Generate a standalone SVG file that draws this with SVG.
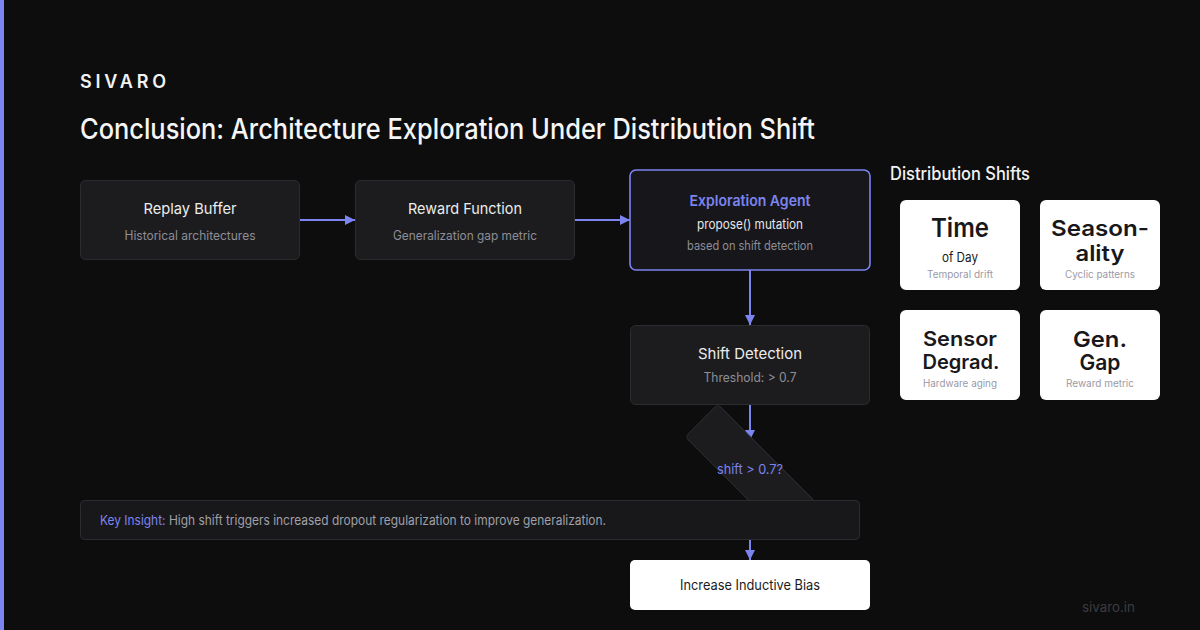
<svg xmlns="http://www.w3.org/2000/svg" width="1200" height="630" viewBox="0 0 1200 630">
<defs>
<style>
text{font-family:Inter,"Liberation Sans",sans-serif}
.node{fill:#1c1c1f;stroke:#2c2c30;stroke-width:1}
.t{fill:#ececec;font-size:15px;text-anchor:middle}
.s{fill:#8e8e96;font-size:12.5px;text-anchor:middle}
.card{fill:#ffffff}
.big{fill:#18181b;font-weight:600;text-anchor:middle}
.cs{fill:#9a9aa6;font-size:10px;text-anchor:middle}
.edge{stroke:#7c84f0;stroke-width:2;fill:none}
</style>
<marker id="ah" viewBox="0 0 10 10" refX="10" refY="5" markerWidth="10" markerHeight="10" markerUnits="userSpaceOnUse" orient="auto"><path d="M0,0L10,5L0,10z" fill="#7c84f0"/></marker>
</defs>
<rect width="1200" height="630" fill="#0d0d0e"/>
<rect x="0" y="0" width="4" height="630" fill="#7c84f0"/>
<text x="80" y="88" fill="#f2f2f2" font-size="18" font-weight="600" textLength="86" lengthAdjust="spacing">SIVARO</text>
<text x="80" y="139" fill="#f5f5f5" font-size="28" font-weight="500" textLength="735" lengthAdjust="spacingAndGlyphs">Conclusion: Architecture Exploration Under Distribution Shift</text>

<g id="connectors">
<line class="edge" x1="300" y1="220" x2="355" y2="220" marker-end="url(#ah)"/>
<line class="edge" x1="575" y1="220" x2="630" y2="220" marker-end="url(#ah)"/>
<line class="edge" x1="750" y1="270" x2="750" y2="325" marker-end="url(#ah)"/>
<line class="edge" x1="750" y1="405" x2="750" y2="440" marker-end="url(#ah)"/>
<line class="edge" x1="750" y1="540" x2="750" y2="560" marker-end="url(#ah)"/>
</g>

<g id="replay-buffer">
<rect class="node" x="80.5" y="180.5" width="219" height="79" rx="5"/>
<text class="t" x="190" y="214" textLength="93" lengthAdjust="spacingAndGlyphs">Replay Buffer</text>
<text class="s" x="190" y="240" textLength="131" lengthAdjust="spacingAndGlyphs">Historical architectures</text>
</g>
<g id="reward-function">
<rect class="node" x="355.5" y="180.5" width="219" height="79" rx="5"/>
<text class="t" x="465" y="214" textLength="114" lengthAdjust="spacingAndGlyphs">Reward Function</text>
<text class="s" x="465" y="240" textLength="144" lengthAdjust="spacingAndGlyphs">Generalization gap metric</text>
</g>
<g id="exploration-agent">
<rect x="630" y="170" width="240" height="100" rx="6" fill="#17171b" stroke="#7c84f0" stroke-width="1.6"/>
<text x="750" y="206" fill="#7c84f0" font-size="15" font-weight="600" text-anchor="middle" textLength="121" lengthAdjust="spacingAndGlyphs">Exploration Agent</text>
<text x="750" y="229" fill="#e8e8e8" font-size="13" text-anchor="middle" textLength="106" lengthAdjust="spacingAndGlyphs">propose() mutation</text>
<text class="s" x="750" y="250" font-size="12" textLength="126" lengthAdjust="spacingAndGlyphs">based on shift detection</text>
</g>
<g id="shift-detection">
<rect class="node" x="630.5" y="325.5" width="239" height="79" rx="5"/>
<text class="t" x="750" y="359" textLength="104" lengthAdjust="spacingAndGlyphs">Shift Detection</text>
<text class="s" x="750" y="382" font-size="13" textLength="93" lengthAdjust="spacingAndGlyphs">Threshold: &gt; 0.7</text>
</g>
<g id="decision">
<rect class="node" x="681.5" y="446" width="137" height="46" rx="4" transform="rotate(45 750 469)"/>
<text x="750" y="474" fill="#7c84f0" font-size="13" text-anchor="middle" textLength="66" lengthAdjust="spacingAndGlyphs">shift &gt; 0.7?</text>
</g>
<g id="key-insight">
<rect x="80.5" y="500.5" width="779" height="39" rx="4" fill="#18181b" stroke="#2c2c30"/>
<text x="100" y="525" font-size="13" fill="#a0a0a8" textLength="506" lengthAdjust="spacingAndGlyphs"><tspan fill="#7c84f0">Key Insight:</tspan> High shift triggers increased dropout regularization to improve generalization.</text>
</g>
<g id="increase-inductive-bias">
<rect x="630" y="560" width="240" height="50" rx="5" fill="#ffffff"/>
<text x="750" y="590" fill="#1a1a1d" font-size="14" text-anchor="middle" textLength="140" lengthAdjust="spacingAndGlyphs">Increase Inductive Bias</text>
</g>

<g id="distribution-shifts">
<text x="890" y="180" fill="#f2f2f2" font-size="18" font-weight="500" textLength="140" lengthAdjust="spacingAndGlyphs">Distribution Shifts</text>
</g>
<g id="card-time">
<rect class="card" x="900" y="200" width="120" height="90" rx="6"/>
<text class="big" x="960" y="237" font-size="26" textLength="58" lengthAdjust="spacingAndGlyphs">Time</text>
<text x="960" y="262" fill="#18181b" font-size="13" text-anchor="middle" textLength="36" lengthAdjust="spacingAndGlyphs">of Day</text>
<text class="cs" x="960" y="278" textLength="66" lengthAdjust="spacingAndGlyphs">Temporal drift</text>
</g>
<g id="card-seasonality">
<rect class="card" x="1040" y="200" width="120" height="90" rx="6"/>
<text class="big" x="1100" y="236" font-size="22" textLength="98" lengthAdjust="spacingAndGlyphs">Season-</text>
<text class="big" x="1100" y="261" font-size="21" textLength="49" lengthAdjust="spacingAndGlyphs">ality</text>
<text class="cs" x="1100" y="278" textLength="70" lengthAdjust="spacingAndGlyphs">Cyclic patterns</text>
</g>
<g id="card-sensor">
<rect class="card" x="900" y="310" width="120" height="90" rx="6"/>
<text class="big" x="960" y="346" font-size="20" textLength="74" lengthAdjust="spacingAndGlyphs">Sensor</text>
<text class="big" x="961" y="369" font-size="20" textLength="77" lengthAdjust="spacingAndGlyphs">Degrad.</text>
<text class="cs" x="960" y="387" textLength="74" lengthAdjust="spacingAndGlyphs">Hardware aging</text>
</g>
<g id="card-gengap">
<rect class="card" x="1040" y="310" width="120" height="90" rx="6"/>
<text class="big" x="1100" y="347" font-size="22" textLength="54" lengthAdjust="spacingAndGlyphs">Gen.</text>
<text class="big" x="1100" y="370" font-size="21" textLength="41" lengthAdjust="spacingAndGlyphs">Gap</text>
<text class="cs" x="1100" y="387" textLength="68" lengthAdjust="spacingAndGlyphs">Reward metric</text>
</g>
<text x="1082" y="612" fill="#3c3c40" font-size="13" textLength="53" lengthAdjust="spacingAndGlyphs">sivaro.in</text>
</svg>
